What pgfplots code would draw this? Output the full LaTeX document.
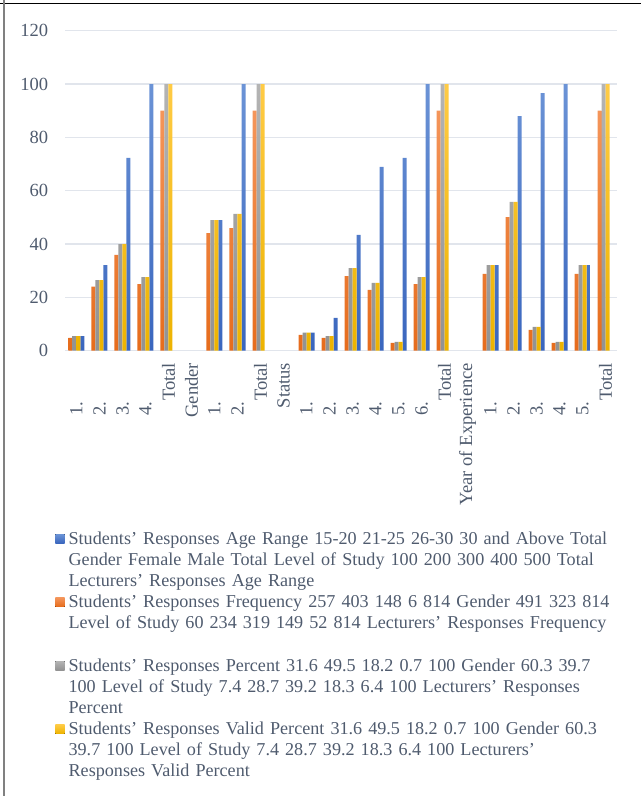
\documentclass[border=0pt]{standalone}
\usepackage{fontspec}
\setmainfont{Liberation Serif}
\usepackage{pgfplots}
\pgfplotsset{compat=1.18}

\definecolor{blueT}{HTML}{6B93D6}
\definecolor{blueB}{HTML}{3A66BE}
\definecolor{orgT}{HTML}{F4955A}
\definecolor{orgB}{HTML}{E66C1C}
\definecolor{grayT}{HTML}{B4B4B4}
\definecolor{grayB}{HTML}{929292}
\definecolor{yelT}{HTML}{FFCB45}
\definecolor{yelB}{HTML}{EDB300}
\definecolor{tickc}{HTML}{4F5B6E}
\definecolor{gridc}{HTML}{E1E5EC}

\newcommand\nl[1]{#1.\hspace*{29pt}}

\begin{document}
\begin{tikzpicture}
\begin{axis}[
  at={(0,0)}, anchor=south west,
  scale only axis, width=414pt, height=240pt,
  xmin=-0.5, xmax=23.5, ymin=0, ymax=120,
  ytick={0,20,...,120},
  xtick={0,...,23},
  xticklabels={\nl1,\nl2,\nl3,\nl4,Total,Gender,\nl1,\nl2,Total,Status,
    \nl1,\nl2,\nl3,\nl4,\nl5,\nl6,Total,Year of Experience,
    \nl1,\nl2,\nl3,\nl4,\nl5,Total},
  major tick length=0pt,
  axis line style={draw=none},
  ymajorgrids, grid style={color=gridc, line width=0.8pt},
  ybar, bar width=3pt,
  /pgf/number format/assume math mode=true,
  tick label style={font=\fontsize{13.9}{15.85}\selectfont, text=tickc},
  yticklabel style={anchor=east, inner sep=0pt, xshift=-12.5pt},
  xticklabel style={rotate=90, anchor=east, inner sep=0pt},
  xticklabel shift=9pt,
  legend image code/.code={\fill[#1] (0pt,1pt) rectangle (7pt,7.75pt);},
  legend style={
    at={(axis description cs:-0.0181,-0.551)}, anchor=north west,
    draw=none, fill=none, inner sep=0pt, row sep=31.2pt, column sep=1pt,
    font=\fontsize{13.6}{15.6}\selectfont, text=tickc,
    cells={anchor=base west, text width=440pt, align=left, inner sep=0pt},
  },
]
% blue series (rightmost bar of each group)
\addplot[draw=none, top color=blueT, bottom color=blueB, bar shift=4.5pt] coordinates {
  (0,5.5) (1,32.1) (2,72.3) (3,100)
  (6,49) (7,100)
  (10,6.8) (11,12.3) (12,43.4) (13,68.9) (14,72.3) (15,100)
  (18,32.1) (19,88) (20,96.6) (21,100) (22,32.1)};
\addlegendentry{\strut Students’ Responses Age Range 15-20 21-25 26-30 30 and Above Total\\Gender Female Male Total Level of Study 100 200 300 400 500 Total\\Lecturers’ Responses Age Range\strut}
% orange
\addplot[draw=none, top color=orgT, bottom color=orgB, bar shift=-4.5pt] coordinates {
  (0,4.8) (1,24) (2,35.9) (3,25) (4,90)
  (6,44.1) (7,46) (8,90)
  (10,5.9) (11,4.8) (12,28) (13,22.8) (14,2.9) (15,25) (16,90)
  (18,28.8) (19,50.1) (20,7.8) (21,2.9) (22,28.8) (23,90)};
\addlegendentry{\strut Students’ Responses Frequency 257 403 148 6 814 Gender 491 323 814\\Level of Study 60 234 319 149 52 814 Lecturers’ Responses Frequency\\\strut}
% gray
\addplot[draw=none, top color=grayT, bottom color=grayB, bar shift=-1.5pt] coordinates {
  (0,5.5) (1,26.5) (2,40) (3,27.6) (4,100)
  (6,49) (7,51.3) (8,100)
  (10,6.8) (11,5.5) (12,31) (13,25.4) (14,3.3) (15,27.6) (16,100)
  (18,32.1) (19,55.8) (20,8.9) (21,3.3) (22,32.1) (23,100)};
\addlegendentry{\strut Students’ Responses Percent 31.6 49.5 18.2 0.7 100 Gender 60.3 39.7\\100 Level of Study 7.4 28.7 39.2 18.3 6.4 100 Lecturers’ Responses\\Percent\strut}
% yellow
\addplot[draw=none, top color=yelT, bottom color=yelB, bar shift=1.5pt] coordinates {
  (0,5.5) (1,26.5) (2,40) (3,27.6) (4,100)
  (6,49) (7,51.3) (8,100)
  (10,6.8) (11,5.5) (12,31) (13,25.4) (14,3.3) (15,27.6) (16,100)
  (18,32.1) (19,55.8) (20,8.9) (21,3.3) (22,32.1) (23,100)};
\addlegendentry{\strut Students’ Responses Valid Percent 31.6 49.5 18.2 0.7 100 Gender 60.3\\39.7 100 Level of Study 7.4 28.7 39.2 18.3 6.4 100 Lecturers’\\Responses Valid Percent\strut}
\end{axis}
\draw[black, line width=1pt] (-48.75pt,260.4pt) -- (432pt,260.4pt);
\draw[gray, line width=1.5pt] (-45.75pt,263pt) -- (-45.75pt,-334pt);
\pgfresetboundingbox
\path[use as bounding box] (-48.75pt,263pt) rectangle (432pt,-334pt);
\end{tikzpicture}
\end{document}
